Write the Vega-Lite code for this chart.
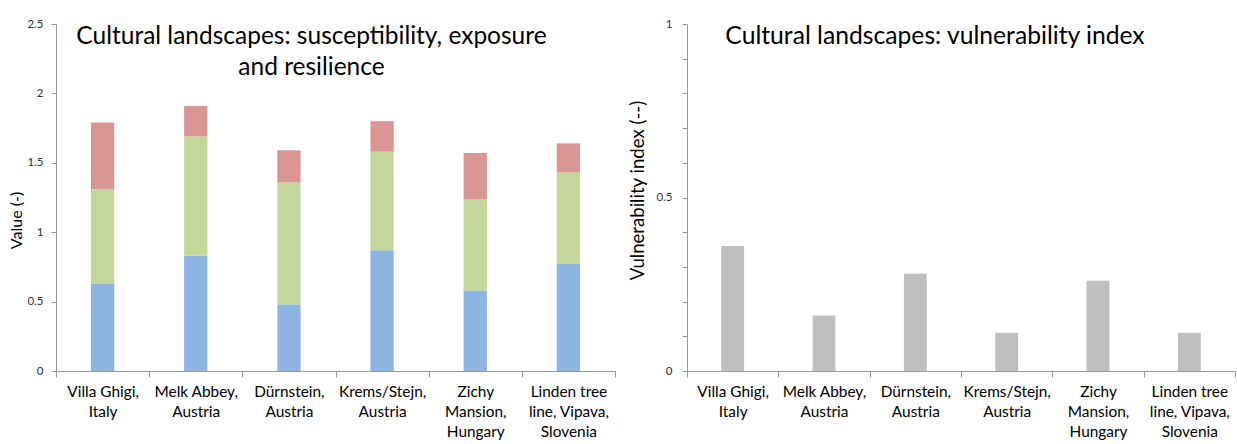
{
  "$schema": "https://vega.github.io/schema/vega-lite/v6.json",
  "background": "white",
  "padding": {"left": 8, "top": 18, "right": 0, "bottom": 0},
  "datasets": {
    "components": [
      {"site": "Villa Ghigi,|Italy", "component": "Susceptibility", "order": 1, "value": 0.63},
      {"site": "Villa Ghigi,|Italy", "component": "Exposure", "order": 2, "value": 0.68},
      {"site": "Villa Ghigi,|Italy", "component": "Resilience", "order": 3, "value": 0.48},
      {"site": "Melk Abbey,|Austria", "component": "Susceptibility", "order": 1, "value": 0.83},
      {"site": "Melk Abbey,|Austria", "component": "Exposure", "order": 2, "value": 0.86},
      {"site": "Melk Abbey,|Austria", "component": "Resilience", "order": 3, "value": 0.22},
      {"site": "Dürnstein,|Austria", "component": "Susceptibility", "order": 1, "value": 0.48},
      {"site": "Dürnstein,|Austria", "component": "Exposure", "order": 2, "value": 0.88},
      {"site": "Dürnstein,|Austria", "component": "Resilience", "order": 3, "value": 0.23},
      {"site": "Krems/Stejn,|Austria", "component": "Susceptibility", "order": 1, "value": 0.87},
      {"site": "Krems/Stejn,|Austria", "component": "Exposure", "order": 2, "value": 0.71},
      {"site": "Krems/Stejn,|Austria", "component": "Resilience", "order": 3, "value": 0.22},
      {"site": "Zichy|Mansion,|Hungary", "component": "Susceptibility", "order": 1, "value": 0.58},
      {"site": "Zichy|Mansion,|Hungary", "component": "Exposure", "order": 2, "value": 0.66},
      {"site": "Zichy|Mansion,|Hungary", "component": "Resilience", "order": 3, "value": 0.33},
      {"site": "Linden tree|line, Vipava,|Slovenia", "component": "Susceptibility", "order": 1, "value": 0.77},
      {"site": "Linden tree|line, Vipava,|Slovenia", "component": "Exposure", "order": 2, "value": 0.66},
      {"site": "Linden tree|line, Vipava,|Slovenia", "component": "Resilience", "order": 3, "value": 0.21}
    ],
    "vulnerability": [
      {"site": "Villa Ghigi,|Italy", "index": 0.36},
      {"site": "Melk Abbey,|Austria", "index": 0.16},
      {"site": "Dürnstein,|Austria", "index": 0.28},
      {"site": "Krems/Stejn,|Austria", "index": 0.11},
      {"site": "Zichy|Mansion,|Hungary", "index": 0.26},
      {"site": "Linden tree|line, Vipava,|Slovenia", "index": 0.11}
    ]
  },
  "spacing": 12,
  "hconcat": [
    {
      "width": 559,
      "height": 347,
      "title": {
        "text": ["Cultural landscapes: susceptibility, exposure", "and resilience"],
        "fontSize": 24.5,
        "fontWeight": "normal",
        "anchor": "middle",
        "baseline": "top",
        "lineHeight": 31,
        "offset": 0,
        "dx": -24,
        "dy": 62
      },
      "data": {"name": "components"},
      "mark": {"type": "bar", "width": {"band": 0.25}},
      "encoding": {
        "x": {
          "field": "site", "type": "nominal", "sort": null,
          "scale": {"paddingInner": 0, "paddingOuter": 0},
          "axis": {"title": null, "labelAngle": 0, "tickBand": "extent", "labelExpr": "split(datum.label, '|')", "labelPadding": 7, "labelLineHeight": 20, "labelFontSize": 15.4, "labelColor": "#000000", "tickSize": 6, "labelBaseline": "top"}
        },
        "y": {
          "field": "value", "type": "quantitative", "stack": "zero",
          "scale": {"domain": [0, 2.5]},
          "axis": {"title": "Value (-)", "titleFontSize": 16, "titleY": 196, "values": [0, 0.5, 1, 1.5, 2, 2.5], "format": ".1~f", "labelPadding": 8, "titlePadding": 2}
        },
        "color": {
          "field": "component", "type": "nominal",
          "scale": {"domain": ["Susceptibility", "Exposure", "Resilience"], "range": ["#8EB4E3", "#C4D79B", "#D99694"]},
          "legend": null
        },
        "order": {"field": "order", "type": "quantitative"}
      }
    },
    {
      "width": 548,
      "height": 347,
      "title": {
        "text": "Cultural landscapes: vulnerability index",
        "fontSize": 24.7,
        "fontWeight": "normal",
        "anchor": "middle",
        "baseline": "top",
        "offset": 0,
        "dx": -26,
        "dy": 31
      },
      "data": {"name": "vulnerability"},
      "mark": {"type": "bar", "width": {"band": 0.25}, "color": "#BFBFBF"},
      "encoding": {
        "x": {
          "field": "site", "type": "nominal", "sort": null,
          "scale": {"paddingInner": 0, "paddingOuter": 0},
          "axis": {"title": null, "labelAngle": 0, "tickBand": "extent", "labelExpr": "split(datum.label, '|')", "labelPadding": 7, "labelLineHeight": 20, "labelFontSize": 15.4, "labelColor": "#000000", "tickSize": 6, "labelBaseline": "top"}
        },
        "y": {
          "field": "index", "type": "quantitative",
          "scale": {"domain": [0, 1]},
          "axis": {"title": "Vulnerability index (--)", "titleFontSize": 18.6, "titleY": 166, "values": [0, 0.1, 0.2, 0.3, 0.4, 0.5, 0.6, 0.7, 0.8, 0.9, 1], "labelExpr": "datum.value == 0 || datum.value == 0.5 || datum.value == 1 ? format(datum.value, '.1~f') : ''", "labelPadding": 10, "titlePadding": 8}
        }
      }
    }
  ],
  "config": {
    "font": "Lato",
    "view": {"stroke": null},
    "axis": {
      "domainColor": "#999999",
      "tickColor": "#999999",
      "labelColor": "#333333",
      "titleColor": "#000000",
      "labelFontSize": 11.5,
      "titleFontWeight": "normal",
      "grid": false,
      "tickSize": 5
    },
    "title": {"color": "#000000"}
  }
}
